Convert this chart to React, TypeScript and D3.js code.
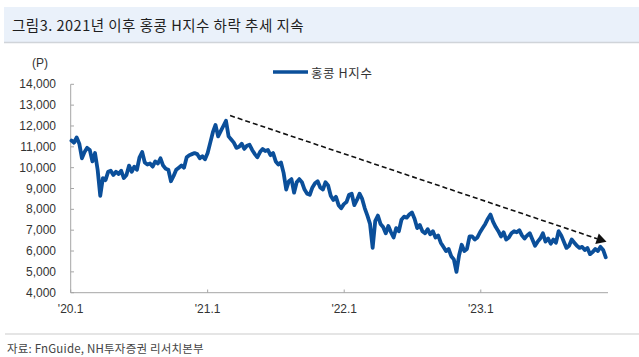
import React from "react";
import * as d3 from "d3";

// Weekly closes of the Hang Seng China Enterprises Index
const hscei2020Start = "2020-01-03";
const hscei2020 = [
  11300, 11200, 11450, 11150, 10450,
  10750, 10950, 10850, 10300,
  10700, 9900, 8650, 9500,
  9400, 9800, 9850, 9650,
  9800, 9700, 9850, 9500, 9650,
  10100, 9800, 10050, 9900,
  10500, 10750, 10250, 10150, 10200,
  10050, 10300, 10200, 10450,
  10100, 9950, 9900, 9350,
  9600, 9900, 10000, 10100, 10000,
  10500, 10600, 10650, 10700,
  10650, 10450, 10550, 10400,
];
const hscei2021Start = "2021-01-01";
const hscei2021 = [
  10700, 11200, 11700, 12050, 11500,
  11750, 12000, 12250, 11500,
  11350, 11200, 10950, 11000,
  11150, 10900, 11050, 11100, 10850,
  10650, 10500, 10750, 10900,
  10800, 10850, 10600, 10700,
  10300, 10150, 10250, 9750, 8950,
  9350, 9450, 8800, 9300,
  9450, 9300, 8950, 8750,
  8700, 9050, 9250, 9350, 9050,
  8950, 9300, 9150, 8650,
  8450, 8600, 8200, 8050, 8250,
];
const hscei2022Start = "2022-01-07";
const hscei2022 = [
  8350, 8700, 8750, 8200,
  8450, 8750, 8500, 8050,
  7700, 7300, 6150, 7450,
  7700, 7300, 7150, 6850, 7200,
  6900, 6650, 7100, 6950,
  7500, 7650, 7600, 7750,
  7850, 7550, 7100, 7250, 6950,
  6850, 7050, 6800, 6950,
  6650, 6750, 6400, 6200, 6000,
  6100, 5750, 5600, 5000,
  5800, 6300, 6000, 6100,
  6700, 6700, 6550, 6650, 6900,
];
const hscei2023Start = "2023-01-06";
const hscei2023 = [
  7100, 7300, 7550, 7750,
  7400, 7150, 6950, 6700,
  6900, 6550, 6650, 6850, 6950,
  6900, 7000, 6750, 6600,
  6750, 6850, 6550, 6250,
  6450, 6600, 6850, 6450, 6600,
  6350, 6550, 6400, 6950,
  6750, 6450, 6150, 6250,
  6550, 6400, 6250, 6150, 6200,
  6050, 6150, 5850, 5950,
  6100, 6000, 6200, 6050,
  5700,
];

const yTicks = [4000, 5000, 6000, 7000, 8000, 9000, 10000, 11000, 12000, 13000, 14000];
const xTickDates = ["2020-01-01", "2021-01-01", "2022-01-01", "2023-01-01"];
const xTickLabels = ["'20.1", "'21.1", "'22.1", "'23.1"];
const xDomain = ["2020-01-01", "2023-12-07"];

// trend arrow (start -> end)
const trendDates = ["2021-03-02", "2023-12-03"];
const trendValues = [12500, 6440];

const titleText = "그림3. 2021년 이후 홍콩 H지수 하락 추세 지속";
const legendLabel = "홍콩 H지수";
const unitLabel = "(P)";
const sourceText = "자료: FnGuide, NH투자증권 리서치본부";

const parse = d3.utcParse("%Y-%m-%d");

function buildSeries(start: string, values: number[]) {
  const s = parse(start) as Date;
  return values.map((v, i) => ({ date: d3.utcDay.offset(s, i * 7), value: v }));
}

const series = [
  ...buildSeries(hscei2020Start, hscei2020),
  ...buildSeries(hscei2021Start, hscei2021),
  ...buildSeries(hscei2022Start, hscei2022),
  ...buildSeries(hscei2023Start, hscei2023),
];

export default function App() {
  const W = 639;
  const H = 357;
  const x = d3
    .scaleUtc()
    .domain(xDomain.map((d) => parse(d) as Date))
    .range([70.7, 608]);
  const y = d3.scaleLinear().domain([4000, 14000]).range([292.7, 84.3]);

  const line = d3
    .line<{ date: Date; value: number }>()
    .x((d) => x(d.date))
    .y((d) => y(d.value))
    .curve(d3.curveLinear);

  const tx0 = x(parse(trendDates[0]) as Date);
  const ty0 = y(trendValues[0]);
  const tx1 = x(parse(trendDates[1]) as Date);
  const ty1 = y(trendValues[1]);
  const ang = Math.atan2(ty1 - ty0, tx1 - tx0);
  const headLen = 10;
  const headHalf = 5.5;
  const bx = tx1 - headLen * Math.cos(ang);
  const by = ty1 - headLen * Math.sin(ang);
  const px = -Math.sin(ang) * headHalf;
  const py = Math.cos(ang) * headHalf;

  const axisColor = "#a6a6a6";
  const lineColor = "#0b4f9a";
  const numFont = "'Liberation Sans Narrow', 'Liberation Sans', Arial, sans-serif";
  const krFont = "'Noto Sans CJK KR', 'Noto Sans', sans-serif";

  return (
    <svg
      width={W}
      height={H}
      style={{ position: "fixed", left: 0, top: 0, background: "#fff" }}
    >
      {/* title bar */}
      <rect x={4} y={7} width={W - 4} height={35} fill="#eaf1fa" />
      <line x1={4} x2={W} y1={42.5} y2={42.5} stroke="#d0d4d9" strokeWidth={1.5} />
      <text
        x={12}
        y={24.5}
        dominantBaseline="central"
        fontFamily={krFont}
        fontSize={14.5}
        letterSpacing={0.5}
        fill="#1e1e1e"
      >
        {titleText}
      </text>

      {/* unit */}
      <text x={40} y={63} textAnchor="middle" dominantBaseline="central" fontFamily={numFont} fontSize={12} fill="#333">
        {unitLabel}
      </text>

      {/* y axis */}
      <line x1={70.7} x2={70.7} y1={y(14000)} y2={y(4000)} stroke={axisColor} strokeWidth={1} />
      {yTicks.map((t) => (
        <g key={t}>
          <line x1={70.7} x2={74} y1={y(t)} y2={y(t)} stroke={axisColor} strokeWidth={1} />
          <text
            x={56}
            y={y(t)}
            textAnchor="end"
            dominantBaseline="central"
            fontFamily={numFont}
            fontSize={12}
            fill="#333"
          >
            {d3.format(",")(t)}
          </text>
        </g>
      ))}

      {/* x axis */}
      <line x1={70.7} x2={608} y1={292.7} y2={292.7} stroke={axisColor} strokeWidth={1} />
      {xTickDates.map((d, i) => {
        const xx = x(parse(d) as Date);
        return (
          <g key={d}>
            <line x1={xx} x2={xx} y1={292.7} y2={289.5} stroke={axisColor} strokeWidth={1} />
            <text
              x={xx}
              y={309}
              textAnchor="middle"
              dominantBaseline="central"
              fontFamily={numFont}
              fontSize={12}
              fill="#333"
            >
              {xTickLabels[i]}
            </text>
          </g>
        );
      })}

      {/* series */}
      <path
        d={line(series) || ""}
        fill="none"
        stroke={lineColor}
        strokeWidth={3.8}
        strokeLinejoin="round"
        strokeLinecap="round"
      />

      {/* trend arrow */}
      <line x1={tx0} y1={ty0} x2={bx} y2={by} stroke="#111" strokeWidth={1.6} strokeDasharray="5,3" />
      <path
        d={`M${tx1},${ty1} L${bx + px},${by + py} L${bx - px},${by - py} Z`}
        fill="#111"
      />

      {/* legend */}
      <line x1={273} x2={308} y1={72} y2={72} stroke={lineColor} strokeWidth={3.6} />
      <text x={311} y={72} dominantBaseline="central" fontFamily={krFont} fontSize={12.5} letterSpacing={0.6} fill="#333">
        {legendLabel}
      </text>

      {/* footer */}
      <line x1={5} x2={W} y1={334} y2={334} stroke="#dcdcdc" strokeWidth={1.5} />
      <text x={7} y={348} dominantBaseline="central" fontFamily={krFont} fontSize={11.5} letterSpacing={0.2} fill="#444">
        {sourceText}
      </text>
    </svg>
  );
}
